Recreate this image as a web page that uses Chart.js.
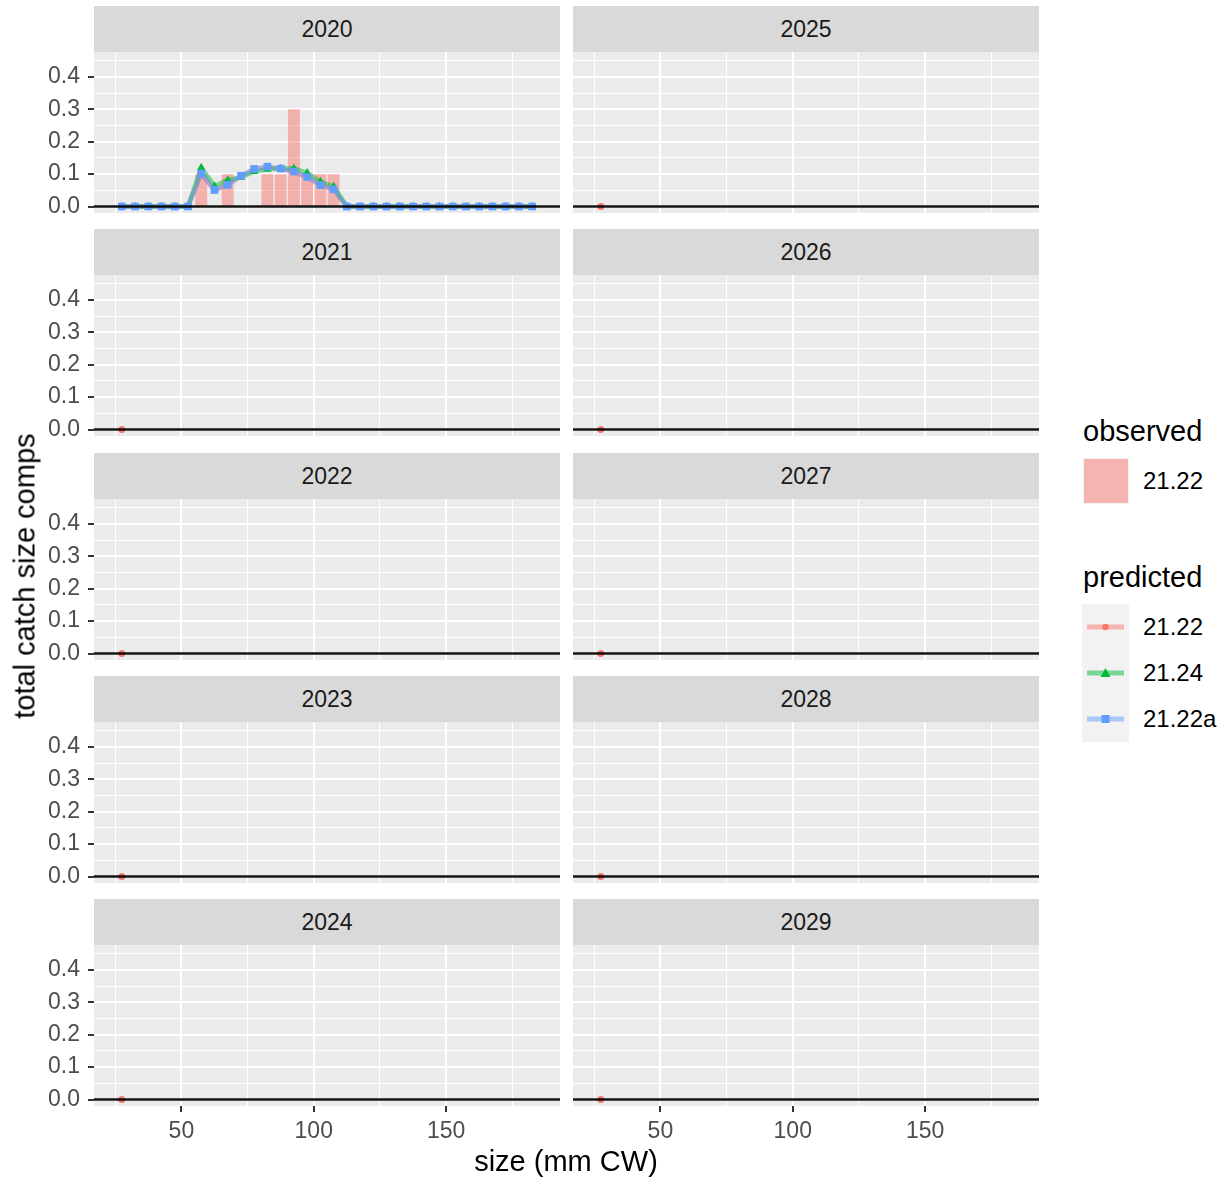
<!DOCTYPE html>
<html>
<head>
<meta charset="utf-8">
<script src="https://cdn.jsdelivr.net/npm/chart.js@4.4.1/dist/chart.umd.min.js"></script>
<style>
  body { margin: 0; background: #fff; font-family: "Liberation Sans", Arial, sans-serif; }
  #wrap { position: relative; width: 1227px; height: 1182px; overflow: hidden; }
  .strip { position: absolute; background: #D9D9D9; color: #1A1A1A; font-size: 23px;
           display: flex; align-items: center; justify-content: center; }
  canvas { position: absolute; }
  .txt { position: absolute; white-space: nowrap; display: flex; align-items: center; }
</style>
</head>
<body>
<div id="wrap"></div>
<script>
// facet years (first column 2020-2024, second 2025-2029)
const years = [2020, 2021, 2022, 2023, 2024, 2025, 2026, 2027, 2028, 2029];

// size bins (mm CW)
const sizeBins = [27.5, 32.5, 37.5, 42.5, 47.5, 52.5, 57.5, 62.5, 67.5, 72.5, 77.5, 82.5,
                  87.5, 92.5, 97.5, 102.5, 107.5, 112.5, 117.5, 122.5, 127.5, 132.5, 137.5,
                  142.5, 147.5, 152.5, 157.5, 162.5, 167.5, 172.5, 177.5, 182.5];

// 2020 observed comps (21.22)
const obs2020 = [0, 0, 0, 0, 0, 0, 0.1, 0, 0.1, 0, 0, 0.1, 0.1, 0.3, 0.1, 0.1, 0.1,
                 0, 0, 0, 0, 0, 0, 0, 0, 0, 0, 0, 0, 0, 0, 0];

// 2020 predicted comps
const pred2122 = [0, 0, 0, 0, 0, 0, 0.101, 0.050, 0.067, 0.094, 0.115, 0.122, 0.117, 0.107,
                  0.091, 0.066, 0.053, 0, 0, 0, 0, 0, 0, 0, 0, 0, 0, 0, 0, 0, 0, 0];
const pred2124 = [0, 0, 0, 0, 0, 0, 0.120, 0.063, 0.082, 0.090, 0.108, 0.115, 0.117, 0.118,
                  0.104, 0.077, 0.062, 0, 0, 0, 0, 0, 0, 0, 0, 0, 0, 0, 0, 0, 0, 0];
const pred2122a = [0, 0, 0, 0, 0, 0, 0.102, 0.051, 0.067, 0.095, 0.116, 0.123, 0.117, 0.108,
                   0.091, 0.066, 0.053, 0, 0, 0, 0, 0, 0, 0, 0, 0, 0, 0, 0, 0, 0, 0];

// later years: only a single 21.22 value at the first bin
const emptyBins = [27.5];
const emptyPred2122 = [0];

const seriesNames = ['21.22', '21.24', '21.22a'];

// axes
const xGridVals = [25, 50, 75, 100, 125, 150, 175];
const xTickLabels = ['', '50', '', '100', '', '150', ''];
const yGridVals = [0, 0.05, 0.1, 0.15, 0.2, 0.25, 0.3, 0.35, 0.4, 0.45];
const yTickLabels = ['0.0', '', '0.1', '', '0.2', '', '0.3', '', '0.4', ''];
const zeroLineValue = 0;

// layout
const colLeft = [94, 573];
const panelW = 466;
const panelH = 161;
const stripH = 46;
const rowTop = [52, 275, 499, 722, 945];
const margin = 30;
const yAxisW = 94;
const xAxisH = 46;

const FONT = '"Liberation Sans", Arial, sans-serif';
const wrap = document.getElementById('wrap');

function pts(xs, ys) {
  return xs.map((x, i) => ({ x: x, y: ys[i] }));
}

function addText(str, x, y, size, color, opts) {
  opts = opts || {};
  const d = document.createElement('div');
  d.className = 'txt';
  d.textContent = str;
  d.style.fontSize = size + 'px';
  d.style.color = color;
  d.style.height = size + 'px';
  d.style.lineHeight = size + 'px';
  d.style.top = (y - size / 2) + 'px';
  d.style.left = x + 'px';
  if (opts.center) d.style.transform = 'translateX(-50%)';
  wrap.appendChild(d);
  return d;
}

const panelBg = {
  id: 'panelBg',
  beforeDraw(chart) {
    const a = chart.chartArea;
    const ctx = chart.ctx;
    ctx.save();
    ctx.fillStyle = '#EBEBEB';
    ctx.fillRect(a.left, a.top, a.right - a.left, a.bottom - a.top);
    ctx.restore();
  }
};

const zeroLine = {
  id: 'zeroLine',
  afterDatasetsDraw(chart) {
    const a = chart.chartArea;
    const y = chart.scales.y.getPixelForValue(zeroLineValue);
    const ctx = chart.ctx;
    ctx.save();
    ctx.strokeStyle = 'rgba(0,0,0,0.92)';
    ctx.lineWidth = 2.5;
    ctx.beginPath();
    ctx.moveTo(a.left, y);
    ctx.lineTo(a.right, y);
    ctx.stroke();
    ctx.restore();
  }
};

function lineDs(name, data, color, pointColor, style, radius, order) {
  return {
    type: 'line',
    label: name,
    data: data,
    borderColor: color,
    borderWidth: 4.5,
    borderJoinStyle: 'round',
    tension: 0,
    pointStyle: style,
    pointRadius: radius,
    pointBackgroundColor: pointColor,
    pointBorderWidth: 0,
    order: order
  };
}

years.forEach(function (year, k) {
  const col = Math.floor(k / 5);
  const row = k % 5;
  const isLeft = col === 0;
  const isBottom = row === 4;

  // strip
  const s = document.createElement('div');
  s.className = 'strip';
  s.style.left = colLeft[col] + 'px';
  s.style.top = (rowTop[row] - stripH) + 'px';
  s.style.width = panelW + 'px';
  s.style.height = stripH + 'px';
  s.textContent = year;
  wrap.appendChild(s);

  // canvas
  const cv = document.createElement('canvas');
  const w = isLeft ? yAxisW + panelW : panelW;
  const h = margin + panelH + (isBottom ? xAxisH : margin);
  cv.width = w;
  cv.height = h;
  cv.style.width = w + 'px';
  cv.style.height = h + 'px';
  cv.style.left = (isLeft ? 0 : colLeft[1]) + 'px';
  cv.style.top = (rowTop[row] - margin) + 'px';
  wrap.appendChild(cv);

  let datasets;
  if (year === 2020) {
    datasets = [
      { type: 'bar', label: 'observed', data: pts(sizeBins, obs2020),
        backgroundColor: 'rgba(248,118,109,0.5)', borderWidth: 0,
        barPercentage: 0.9, categoryPercentage: 1.0, order: 4 },
      lineDs(seriesNames[0], pts(sizeBins, pred2122), 'rgba(248,118,109,0.5)', '#F8766D', 'circle', 3.5, 3),
      lineDs(seriesNames[1], pts(sizeBins, pred2124), 'rgba(0,186,56,0.5)', '#00BA38', 'triangle', 4.8, 2),
      lineDs(seriesNames[2], pts(sizeBins, pred2122a), 'rgba(97,156,255,0.5)', '#619CFF', 'rect', 5.4, 1)
    ];
  } else {
    datasets = [
      lineDs(seriesNames[0], pts(emptyBins, emptyPred2122), 'rgba(248,118,109,0.5)', '#F8766D', 'circle', 3.5, 3)
    ];
  }

  new Chart(cv.getContext('2d'), {
    type: 'bar',
    data: { datasets: datasets },
    options: {
      responsive: false,
      animation: false,
      events: [],
      layout: {
        autoPadding: false,
        padding: { top: margin, bottom: isBottom ? 0 : margin, left: 0, right: 0 }
      },
      plugins: { legend: { display: false }, tooltip: { enabled: false } },
      scales: {
        x: {
          type: 'linear',
          min: 17,
          max: 193,
          offset: false,
          afterBuildTicks: sc => { sc.ticks = xGridVals.map(v => ({ value: v })); },
          afterFit: sc => { sc.height = isBottom ? xAxisH : 0; },
          border: { display: false },
          grid: {
            offset: false,
            color: '#FFFFFF',
            lineWidth: c => (xTickLabels[c.index] ? 2 : 1),
            drawTicks: isBottom,
            tickLength: 6,
            tickWidth: 2,
            tickColor: c => (xTickLabels[c.index] ? '#333333' : 'rgba(0,0,0,0)')
          },
          ticks: {
            display: isBottom,
            autoSkip: false,
            maxRotation: 0,
            padding: 6,
            color: '#4D4D4D',
            font: { family: FONT, size: 23 },
            callback: (v, i) => xTickLabels[i]
          }
        },
        y: {
          type: 'linear',
          min: -0.02,
          max: 0.477,
          afterBuildTicks: sc => { sc.ticks = yGridVals.map(v => ({ value: v })); },
          afterFit: sc => { sc.width = isLeft ? yAxisW : 0; },
          border: { display: false },
          grid: {
            color: '#FFFFFF',
            lineWidth: c => (yTickLabels[c.index] ? 2 : 1),
            drawTicks: isLeft,
            tickLength: 6,
            tickWidth: 2,
            tickColor: c => (yTickLabels[c.index] ? '#333333' : 'rgba(0,0,0,0)')
          },
          ticks: {
            display: isLeft,
            autoSkip: false,
            padding: 8,
            color: '#4D4D4D',
            font: { family: FONT, size: 23 },
            callback: (v, i) => yTickLabels[i]
          }
        }
      }
    },
    plugins: [panelBg, zeroLine]
  });
});

// axis titles
addText('size (mm CW)', 566, 1161, 29, '#000000', { center: true });
const yt = addText('total catch size comps', 25, 576, 29, '#000000');
yt.style.top = '0px';
yt.style.left = '0px';
yt.style.transformOrigin = '0 0';
yt.style.transform = 'translate(' + (25 - 29 / 2) + 'px, 576px) rotate(-90deg) translate(-50%, 0)';

// legend: observed
addText('observed', 1083, 431, 29, '#000000');
const obsKey = document.createElement('div');
obsKey.style.cssText = 'position:absolute;left:1083px;top:458px;width:46px;height:46px;background:#F2F2F2;';
obsKey.innerHTML = '<div style="position:absolute;left:1px;top:1px;width:44px;height:44px;background:rgba(248,118,109,0.5)"></div>';
wrap.appendChild(obsKey);
addText(seriesNames[0], 1143, 481, 24, '#000000');

// legend: predicted
addText('predicted', 1083, 577, 29, '#000000');
const predKey = document.createElement('div');
predKey.style.cssText = 'position:absolute;left:1082px;top:604px;width:47px;height:138px;background:#F2F2F2;';
wrap.appendChild(predKey);
const keyLines = ['rgba(248,118,109,0.5)', 'rgba(0,186,56,0.5)', 'rgba(97,156,255,0.5)'];
const keyMarks = [
  '<circle cx="23.5" cy="23" r="3.3" fill="#F8766D"/>',
  '<polygon points="23.5,18 28.5,27 18.5,27" fill="#00BA38"/>',
  '<rect x="19.5" y="19" width="8" height="8" fill="#619CFF"/>'
];
seriesNames.forEach(function (name, i) {
  const svg = document.createElementNS('http://www.w3.org/2000/svg', 'svg');
  svg.setAttribute('width', '47');
  svg.setAttribute('height', '46');
  svg.style.cssText = 'position:absolute;left:0;top:' + (i * 46) + 'px;';
  svg.innerHTML = '<line x1="5" y1="23" x2="42" y2="23" stroke="' + keyLines[i] + '" stroke-width="5"/>' + keyMarks[i];
  predKey.appendChild(svg);
  addText(name, 1143, 627 + i * 46, 24, '#000000');
});
</script>
</body>
</html>
